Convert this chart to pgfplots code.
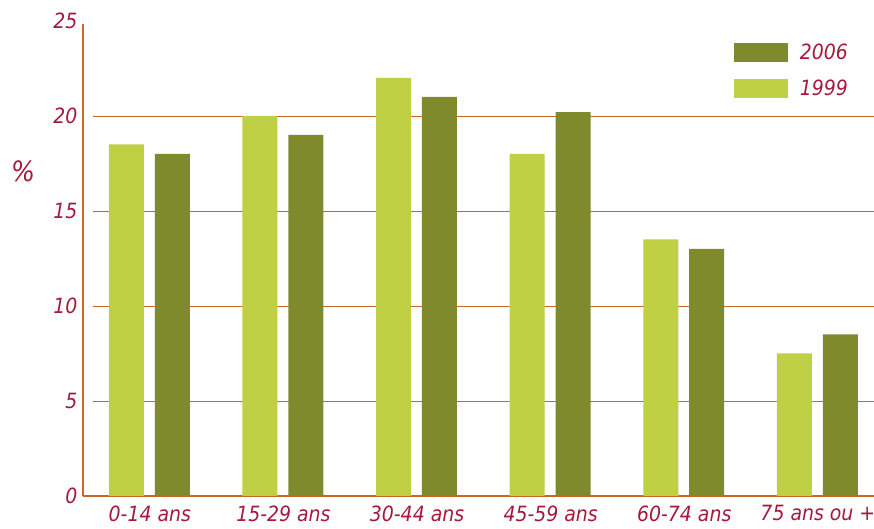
\documentclass[border=0pt]{standalone}
\usepackage{pgfplots}
\pgfplotsset{compat=1.18}
\usepackage{fontspec}
\setmainfont{DejaVu Sans Condensed}
\definecolor{lightg}{HTML}{BFD045}
\definecolor{darkg}{HTML}{7E8A2C}
\definecolor{txtred}{HTML}{A6193B}
\definecolor{orng}{HTML}{CC6629}
\begin{document}
\begin{tikzpicture}[x=1pt,y=1pt]
\useasboundingbox (-83,-33) rectangle (791,496);
\begin{axis}[
  at={(0,0)}, anchor=south west,
  scale only axis, width=791pt, height=475pt,
  xmin=-0.5, xmax=5.42, ymin=0, ymax=25,
  xtick={0,1,2,3,4,5},
  xticklabels={0-14 ans,15-29 ans,30-44 ans,45-59 ans,60-74 ans,75 ans ou +},
  ytick={0,5,10,15,20,25},
  major tick length=0pt,
  axis x line*=bottom, axis y line*=left,
  x axis line style={orng, line width=2.5pt, -},
  y axis line style={orng, line width=2pt, -, shorten >=3pt},
  tick label style={txtred, font=\itshape\fontsize{21}{21}\selectfont},
  xticklabel style={yshift=-6pt},
  yticklabel style={xshift=-2pt},
  /pgf/number format/assume math mode=true,
  clip=false,
  legend style={draw=none, fill=none, at={(0.8187,0.96)}, anchor=north west,
    font=\itshape\fontsize{21}{21}\selectfont, text=txtred, row sep=14.5pt,
    legend cell align=left},
  legend image code/.code={\fill[#1] (0pt,-9.5pt) rectangle (54pt,9.5pt);},
  legend style={nodes={inner xsep=12pt}},
]
\foreach \g in {5,10,15,20} {
  \edef\tmp{\noexpand\draw[orng, line width=0.8pt] (axis cs:-0.427,\g) -- (axis cs:5.42,\g);}
  \tmp
}
\addplot[ybar, bar width=0.262, bar shift=0.168, draw=none, fill=darkg]
  coordinates {(0,18.0) (1,19.0) (2,21.0) (3,20.2) (4,13.0) (5,8.5)};
\addlegendentry{2006}
\addplot[ybar, bar width=0.262, bar shift=-0.176, draw=none, fill=lightg]
  coordinates {(0,18.5) (1,20.0) (2,22.0) (3,18.0) (4,13.5) (5,7.5)};
\addlegendentry{1999}
\end{axis}
\node[txtred, font=\itshape\fontsize{28}{28}\selectfont] at (-60,325) {\%};
\end{tikzpicture}
\end{document}
